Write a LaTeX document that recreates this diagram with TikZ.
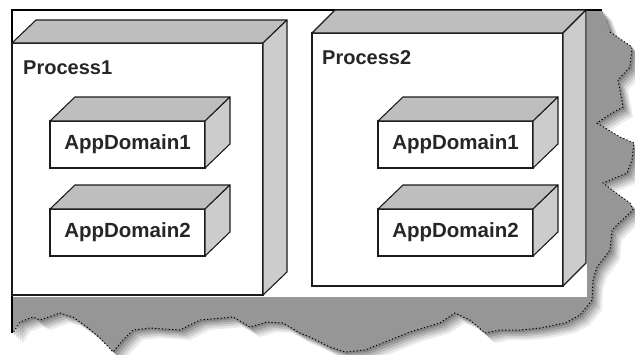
\documentclass[tikz,border=0pt]{standalone}
\usepackage{fontspec}
\setmainfont{Liberation Sans}
\definecolor{topc}{RGB}{190,190,190}
\definecolor{sidec}{RGB}{204,204,204}
\definecolor{shadc}{RGB}{150,150,150}
\definecolor{edgec}{RGB}{28,28,28}
\newcommand\tornshape{(12,10) -- (602,10) -- (610,32) -- (632,47) -- (630,67) -- (618,80) -- (623,107) -- (612,113) -- (597,123) -- (620,137) -- (634,143) -- (632,160) -- (627,173) -- (603,183) -- (612,190) -- (630,203) -- (633,210) -- (620,222) -- (612,230) -- (610,250) -- (597,267) -- (593,280) -- (592,300) -- (580,315) -- (565,323) -- (540,328) -- (520,330) -- (500,330) -- (485,333) -- (470,320) -- (455,313) -- (440,323) -- (410,332) -- (390,340) -- (365,350) -- (345,352) -- (330,347) -- (310,337) -- (300,333) -- (283,323) -- (267,322) -- (250,327) -- (233,317) -- (200,320) -- (180,330) -- (150,328) -- (133,330) -- (123,340) -- (113,352) -- (100,338) -- (87,327) -- (73,317) -- (60,313) -- (40,320) -- (33,317) -- (20,322) -- (13,333) -- (12,333) -- cycle}
\newcommand\tornline{(610,32) -- (632,47) -- (630,67) -- (618,80) -- (623,107) -- (612,113) -- (597,123) -- (620,137) -- (634,143) -- (632,160) -- (627,173) -- (603,183) -- (612,190) -- (630,203) -- (633,210) -- (620,222) -- (612,230) -- (610,250) -- (597,267) -- (593,280) -- (592,300) -- (580,315) -- (565,323) -- (540,328) -- (520,330) -- (500,330) -- (485,333) -- (470,320) -- (455,313) -- (440,323) -- (410,332) -- (390,340) -- (365,350) -- (345,352) -- (330,347) -- (310,337) -- (300,333) -- (283,323) -- (267,322) -- (250,327) -- (233,317) -- (200,320) -- (180,330) -- (150,328) -- (133,330) -- (123,340) -- (113,352) -- (100,338) -- (87,327) -- (73,317) -- (60,313) -- (40,320) -- (33,317) -- (20,322) -- (13,333)}
\tikzset{
  face/.style={draw=edgec, line width=1.1pt, fill=white, inner sep=0pt, outer sep=0pt},
  topface/.style={draw=edgec, line width=1.1pt, fill=topc, line join=round},
  sideface/.style={draw=edgec, line width=1.1pt, fill=sidec, line join=round},
  lbl/.style={font=\bfseries\fontsize{20.5}{24}\selectfont, text=black!85},
  plbl/.style={font=\bfseries\fontsize{20}{24}\selectfont, text=black!85, inner sep=0pt, anchor=base west},
  procbox/.style={face, minimum width=251pt, minimum height=252pt, anchor=north west},
  adbox/.style={face, lbl, minimum width=155pt, minimum height=47pt, anchor=north west},
}
\begin{document}
\begin{tikzpicture}[x=1pt,y=-1pt]
\useasboundingbox (0,0) rectangle (635,354);
% shadow of torn paper
\foreach \s/\o in {10/0.08,8/0.1,6/0.12,4/0.14,2/0.16}{
  \fill[black, opacity=\o, shift={(\s,\s)}] \tornshape;
}
\fill[shadc] \tornshape;
\draw[black, line width=1pt, dash pattern=on 1.2pt off 2.2pt] \tornline;
\fill[white] (12,10) rectangle (587,297);
\draw[black, line width=1.5pt] (12,333) -- (12,10) -- (602,10);

% Process1
\node[procbox] (p1) at (12,43) {};
\path[topface] (p1.north west) -- ++(24,-23) -- ++(251,0) -- (p1.north east) -- cycle;
\path[sideface] (p1.north east) -- ++(24,-23) -- ++(0,252) -- (p1.south east) -- cycle;
\node[plbl] (p1l) at (23,74) {Process1};

% Process2
\node[procbox, minimum height=253pt] (p2) at (312,33) {};
\path[topface] (p2.north west) -- ++(23,-23) -- ++(251,0) -- (p2.north east) -- cycle;
\path[sideface] (p2.north east) -- ++(23,-23) -- ++(0,253) -- (p2.south east) -- cycle;
\node[plbl] (p2l) at (322,64) {Process2};

% AppDomains
\foreach \n/\x/\y/\t in {a11/50/121/AppDomain1, a12/50/209/AppDomain2, a21/378/121/AppDomain1, a22/378/209/AppDomain2}{
  \node[adbox] (\n) at (\x,\y) {\t};
  \path[topface] (\n.north west) -- ++(25,-24) -- ++(155,0) -- (\n.north east) -- cycle;
  \path[sideface] (\n.north east) -- ++(25,-24) -- ++(0,47) -- (\n.south east) -- cycle;
}
\end{tikzpicture}
\end{document}
